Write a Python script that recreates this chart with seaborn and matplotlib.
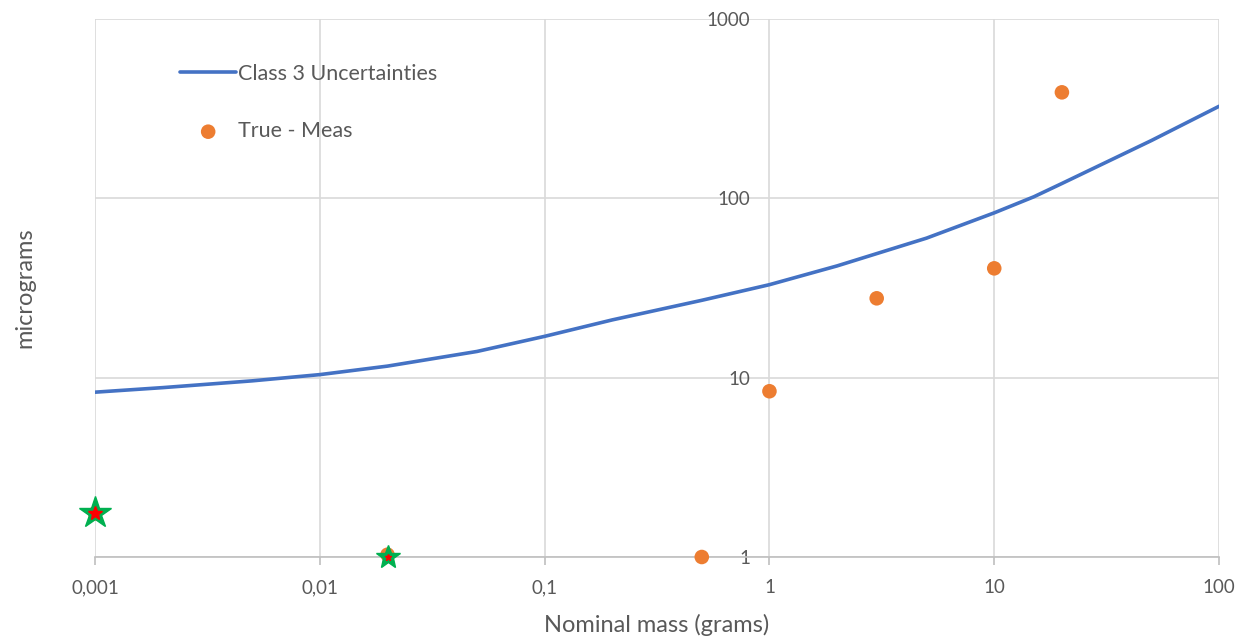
import matplotlib
matplotlib.use("Agg")
import matplotlib.pyplot as plt
import matplotlib.ticker as mticker
import seaborn as sns
import pandas as pd

# Class 3 uncertainty curve (micrograms vs nominal mass in grams)
curve_mass = [0.001, 0.002, 0.005, 0.01, 0.02, 0.05, 0.1, 0.2, 0.5, 1, 2, 5, 10, 15, 20, 50, 100]
curve_ug = [8.3, 8.8, 9.6, 10.4, 11.6, 14.0, 17.0, 21.0, 27.0, 33.0, 42.0, 60.0, 83.0, 102.0, 121.0, 210.0, 326.0]

# True - Meas differences
meas_mass = [0.001, 0.02, 0.5, 1, 3, 10, 20]
meas_ug = [1.75, 1.03, 1.0, 8.4, 27.7, 40.7, 390.0]

# highlighted points (green star with red centre)
star_mass = [0.001, 0.02]
star_ug = [1.75, 1.0]

x_ticks = [0.001, 0.01, 0.1, 1, 10, 100]
x_ticklabels = ["0,001", "0,01", "0,1", "1", "10", "100"]
y_ticks = [1, 10, 100, 1000]

sns.set_style("white")
plt.rcParams['font.family'] = ['Lato', 'DejaVu Sans']

grey = "#595959"
grid = "#D9D9D9"

fig = plt.figure(figsize=(12.41, 6.42), dpi=100)
ax = fig.add_axes([0.0766, 0.1324, 0.9057, 0.838])

df_curve = pd.DataFrame({"mass": curve_mass, "ug": curve_ug})
df_meas = pd.DataFrame({"mass": meas_mass, "ug": meas_ug})

sns.lineplot(data=df_curve, x="mass", y="ug", ax=ax, color="#4472C4", linewidth=2.6,
             label="Class 3 Uncertainties", zorder=3)
sns.scatterplot(data=df_meas, x="mass", y="ug", ax=ax, color="#ED7D31", s=110,
                edgecolor="none", label="True - Meas", zorder=4, clip_on=False)

ax.set_xscale("log")
ax.set_yscale("log")
ax.set_xlim(0.001, 100)
ax.set_ylim(1, 1000)

# stars on top
ax.plot(star_mass[:1], star_ug[:1], marker="*", color="#00B050", markersize=24,
        linestyle="none", zorder=5, clip_on=False)
ax.plot(star_mass[:1], star_ug[:1], marker="*", color="#FF0000", markersize=10,
        linestyle="none", zorder=6, clip_on=False)
ax.plot(star_mass[1:], star_ug[1:], marker="*", color="#00B050", markersize=18,
        linestyle="none", zorder=5, clip_on=False)
ax.plot(star_mass[1:], star_ug[1:], marker="*", color="#FF0000", markersize=5,
        linestyle="none", zorder=6, clip_on=False)

ax.xaxis.set_major_locator(mticker.FixedLocator(x_ticks))
ax.xaxis.set_major_formatter(mticker.FixedFormatter(x_ticklabels))
ax.xaxis.set_minor_locator(mticker.NullLocator())
ax.yaxis.set_major_locator(mticker.FixedLocator(y_ticks))
ax.yaxis.set_major_formatter(mticker.FixedFormatter([str(v) for v in y_ticks]))
ax.yaxis.set_minor_locator(mticker.NullLocator())

ax.grid(True, which="major", color=grid, linewidth=1.2)
ax.set_axisbelow(True)

for s in ["top", "right"]:
    ax.spines[s].set_visible(False)
ax.spines["bottom"].set_color("#BFBFBF")
ax.spines["bottom"].set_linewidth(1.2)
# vertical axis sits at x = 1, like the excel chart
ax.spines["left"].set_position(("data", 1))
ax.spines["left"].set_visible(False)

ax.tick_params(axis="x", colors="#BFBFBF", labelcolor=grey, labelsize=13.5,
               length=6, width=1.2, pad=10, direction="out", bottom=True)
ax.tick_params(axis="y", labelcolor=grey, labelsize=13.5, length=0, pad=14)

ax.set_xlabel("Nominal mass (grams)", color=grey, fontsize=17)
ax.set_ylabel("micrograms", color=grey, fontsize=17)
ax.xaxis.set_label_coords(0.5, -0.105, transform=ax.transAxes)
ax.yaxis.set_label_coords(-0.053, 0.5, transform=ax.transAxes)

leg = ax.legend(loc="upper left", bbox_to_anchor=(0.0585, 0.953), frameon=False,
                fontsize=15.5, labelspacing=1.75, handlelength=2.6, handletextpad=0.1,
                markerscale=1.0)
for t in leg.get_texts():
    t.set_color(grey)

fig.savefig("out.png", dpi=100)
